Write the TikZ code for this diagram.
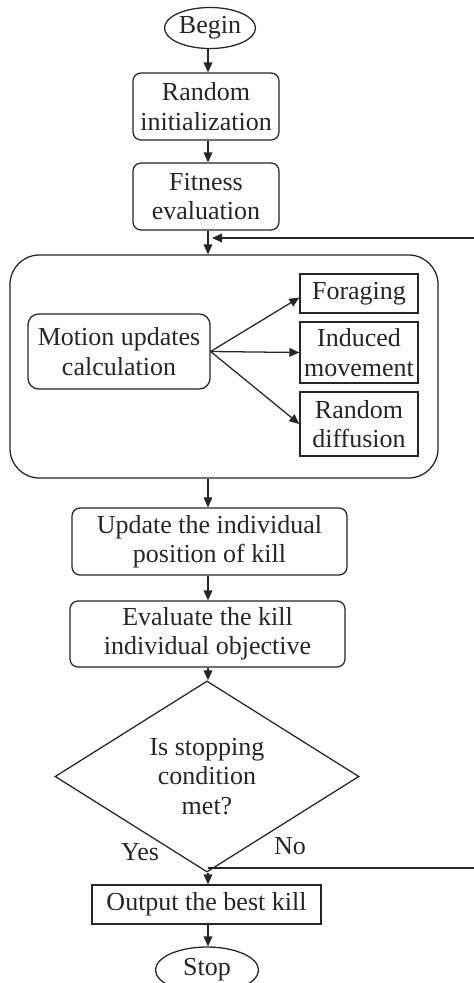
\documentclass[tikz,border=0pt]{standalone}
\usepackage{fontspec}
\setmainfont{Liberation Serif}
\usetikzlibrary{shapes.geometric,arrows.meta}
\tikzset{
  every node/.style={font=\fontsize{19.5}{22}\selectfont, align=center, inner sep=0pt, text=black!85},
  line/.style={line width=0.95pt, draw=black!85},
  arr/.style={line, -{Triangle[length=7.5pt,width=6.5pt]}},
  sz/.style 2 args={minimum width={#1*0.75pt}, minimum height={#2*0.75pt}},
  term/.style={ellipse, line},
  rbox/.style={rectangle, rounded corners=6pt, line},
  sbox/.style={rectangle, line},
  dec/.style={diamond, line},
}
\begin{document}
\begin{tikzpicture}[x=0.75pt, y=-0.75pt]
  \useasboundingbox (0,0) rectangle (474,983);
  \fill[white] (0,0) rectangle (474,983);

  % main column
  \node[term, sz={91}{41}] (begin) at (210,28) {Begin};
  \node[rbox, sz={146}{67}] (init) at (206,106.5) {Random\\initialization};
  \node[rbox, sz={146}{67}] (fit) at (206,196.5) {Fitness\\evaluation};

  % motion block
  \node[rbox, rounded corners=22pt, sz={428}{223}] (motion) at (224,366.5) {};
  \node[rbox, rounded corners=8pt, sz={182}{75}] (calc) at (119,351.5) {Motion updates\\calculation};
  \node[sbox, sz={118}{39}] (forage) at (359,293.5) {Foraging};
  \node[sbox, sz={118}{61}] (induced) at (359,352.5) {Induced\\movement};
  \node[sbox, sz={118}{64}] (diffuse) at (359,424) {Random\\diffusion};

  \node[rbox, sz={275}{67}] (update) at (209.5,541.5) {Update the individual\\position of kill};
  \node[rbox, sz={275}{66}] (evalobj) at (207.5,634) {Evaluate the kill\\individual objective};
  \node[dec, sz={304}{163}] (cond) at (207,776.5) {Is stopping\\condition\\met?};
  \node[sbox, sz={229}{39}] (out) at (206.5,904.5) {Output the best kill};
  \node[term, sz={103}{46}] (stop) at (207,970) {Stop};

  \node (yes) at (140,852) {Yes};
  \node (no) at (290,846) {No};

  % loop-back points at the right edge
  \coordinate (jtop) at (208,238);
  \coordinate (rtop) at (474,238);
  \coordinate (jno) at (208,868);
  \coordinate (rno) at (474,868);

  % connectors
  \draw[arr] (begin.south -| 208,0) -- (init.north -| 208,0);
  \draw[arr] (init.south -| 208,0) -- (fit.north -| 208,0);
  \draw[arr] (fit.south -| 208,0) -- (motion.north -| 208,0);
  \draw[arr] (rtop) -- ([xshift=3pt]jtop);
  \draw[arr] (calc.east) -- ([yshift=-3pt]forage.west);
  \draw[arr] (calc.east) -- (induced.west);
  \draw[arr] (calc.east) -- (diffuse.west);
  \draw[arr] (motion.south -| 208,0) -- (update.north -| 208,0);
  \draw[arr] (update.south -| 208,0) -- (evalobj.north -| 208,0);
  \draw[arr] (evalobj.south -| 208,0) -- (cond.north -| 208,0);
  \draw[arr] (cond.south -| 208,0) -- (out.north -| 208,0);
  \draw[line] (jno) -- (rno);
  \draw[arr] (out.south -| 208,0) -- (stop.north -| 208,0);
\end{tikzpicture}
\end{document}
